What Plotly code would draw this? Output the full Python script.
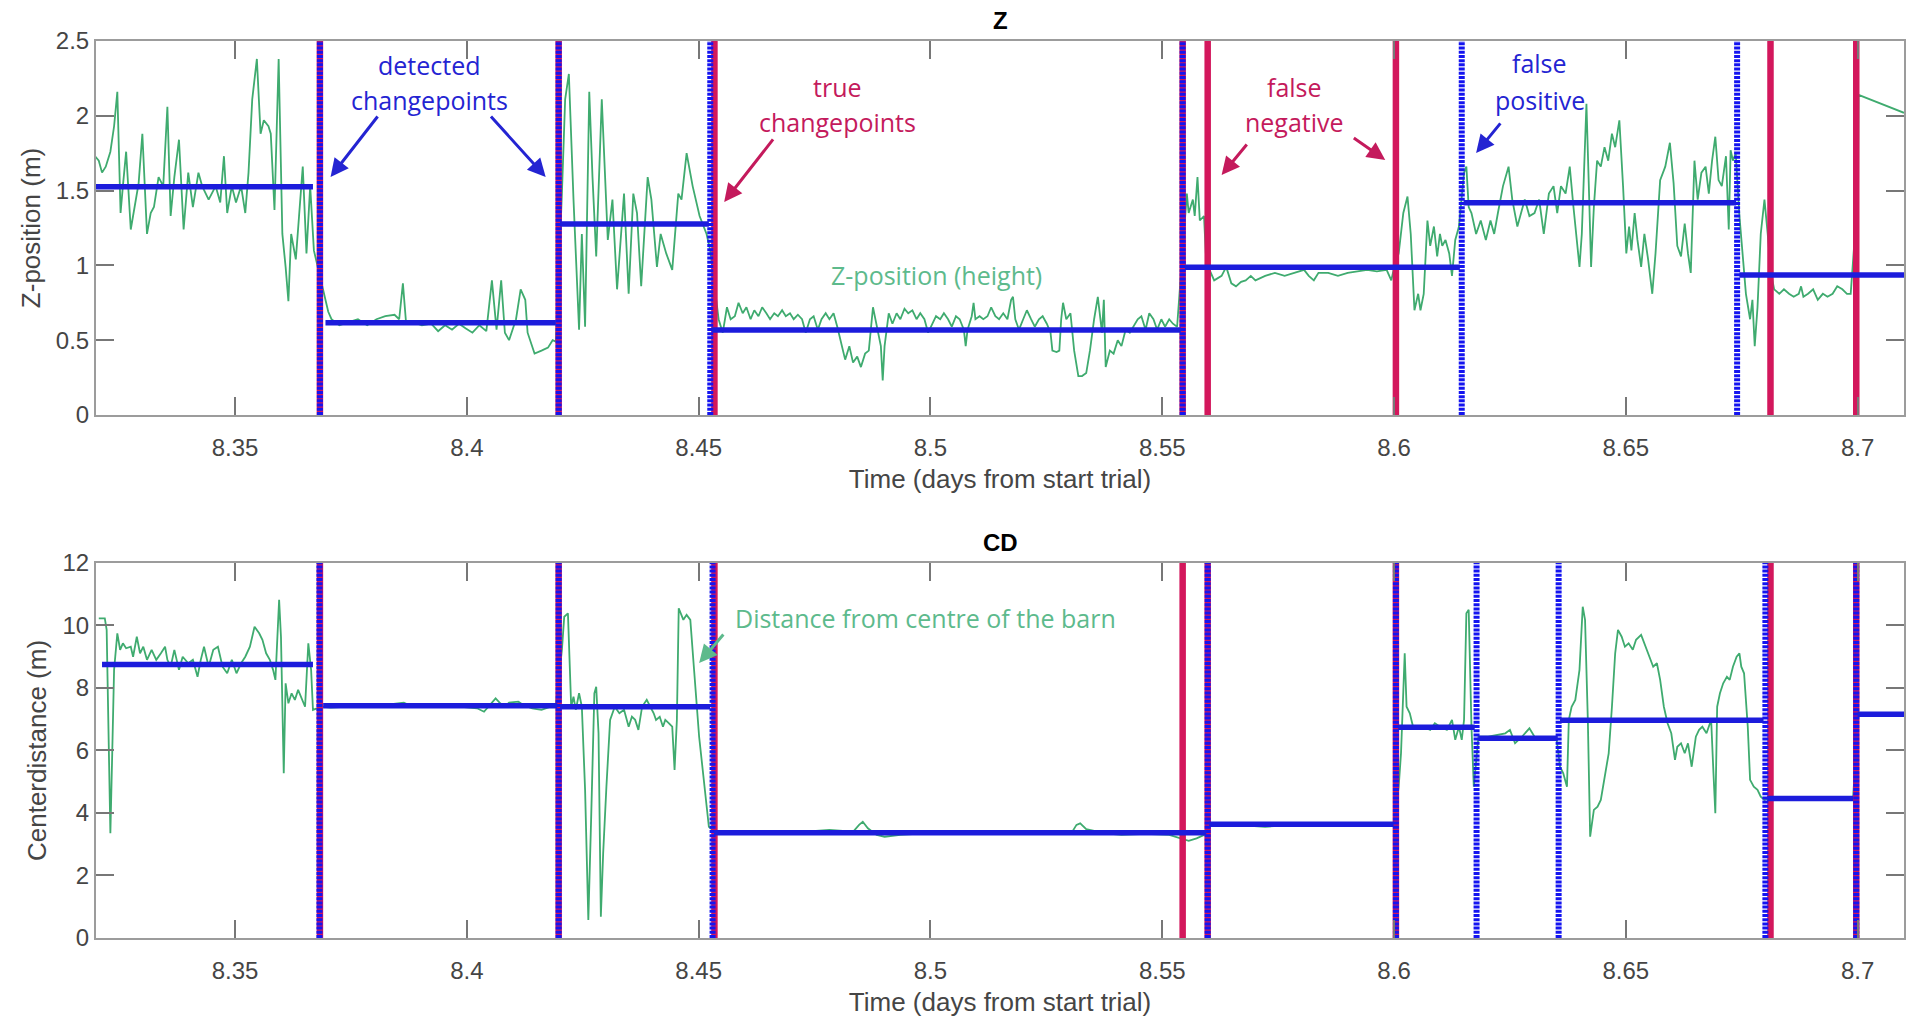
import plotly.graph_objects as go

# ---------------- axes / ticks ----------------
x_range = [8.32, 8.71]
x_tick_vals = [8.35, 8.4, 8.45, 8.5, 8.55, 8.6, 8.65, 8.7]
x_tick_text = ["8.35", "8.4", "8.45", "8.5", "8.55", "8.6", "8.65", "8.7"]
z_range = [0, 2.5]
z_tick_vals = [0, 0.5, 1, 1.5, 2, 2.5]
z_tick_text = ["0", "0.5", "1", "1.5", "2", "2.5"]
cd_range = [0, 12]
cd_tick_vals = [0, 2, 4, 6, 8, 10, 12]
cd_tick_text = ["0", "2", "4", "6", "8", "10", "12"]

# ---------------- changepoints ----------------
true_changepoints = [8.3683, 8.4198, 8.4534, 8.5544, 8.5598, 8.6004, 8.6812, 8.6997]
detected_z = [8.3683, 8.4198, 8.4525, 8.5544, 8.6146, 8.6740]
detected_cd = [8.3682, 8.4198, 8.4530, 8.5598, 8.6004, 8.6178, 8.6355, 8.6801, 8.6997]

# ---------------- segment means ----------------
z_seg_start = [8.3198, 8.3695, 8.4201, 8.4528, 8.5549, 8.6150, 8.6745]
z_seg_end = [8.3668, 8.4192, 8.4522, 8.5540, 8.6142, 8.6738, 8.7100]
z_seg_level = [1.526, 0.617, 1.277, 0.568, 0.987, 1.419, 0.936]

cd_seg_start = [8.3213, 8.3690, 8.4201, 8.4533, 8.5601, 8.6009, 8.6182, 8.6358, 8.6805, 8.7000]
cd_seg_end = [8.3668, 8.4195, 8.4525, 8.5595, 8.5999, 8.6174, 8.6353, 8.6797, 8.6990, 8.7100]
cd_seg_level = [8.75, 7.43, 7.40, 3.37, 3.64, 6.74, 6.39, 6.97, 4.46, 7.16]

# ---------------- Z-position (height) samples ----------------
z_time = [
    # segment 1
    8.3198, 8.3206, 8.3213, 8.3221, 8.3231, 8.3239, 8.3246, 8.3253, 8.3258, 8.3265,
    8.3275, 8.3285, 8.3292, 8.3300, 8.3310, 8.3318, 8.3325, 8.3335, 8.3345, 8.3354,
    8.3361, 8.3369, 8.3379, 8.3389, 8.3399, 8.3409, 8.3421, 8.3429, 8.3443, 8.3458,
    8.3468, 8.3476, 8.3483, 8.3493, 8.3502, 8.3513, 8.3522, 8.3529, 8.3537, 8.3547,
    8.3555, 8.3562, 8.3572, 8.3577, 8.3585, 8.3594, 8.3602, 8.3609, 8.3615, 8.3621,
    8.3631, 8.3638, 8.3646, 8.3654, 8.3662, 8.3670,
    # segment 2
    8.3696, 8.3701, 8.3708, 8.3725, 8.3745, 8.3765, 8.3785, 8.3805, 8.3824, 8.3844,
    8.3854, 8.3862, 8.3869, 8.3884, 8.3903, 8.3923, 8.3938, 8.3953, 8.3968, 8.3983,
    8.3997, 8.4012, 8.4027, 8.4042, 8.4054, 8.4064, 8.4074, 8.4082, 8.4091, 8.4106,
    8.4116, 8.4126, 8.4131, 8.4139, 8.4146, 8.4161, 8.4175, 8.4185, 8.4192,
    # segment 3
    8.4205, 8.4212, 8.4220, 8.4230, 8.4242, 8.4248, 8.4255, 8.4264, 8.4271, 8.4279,
    8.4291, 8.4304, 8.4314, 8.4324, 8.4339, 8.4349, 8.4359, 8.4367, 8.4376, 8.4390,
    8.4398, 8.4410, 8.4418, 8.4430, 8.4443, 8.4456, 8.4463, 8.4474, 8.4487, 8.4502,
    8.4517, 8.4525,
    # segment 4
    8.4543, 8.4552, 8.4561, 8.4569, 8.4578, 8.4586, 8.4595, 8.4603, 8.4612, 8.4620,
    8.4629, 8.4637, 8.4646, 8.4654, 8.4663, 8.4671, 8.4680, 8.4688, 8.4697, 8.4705,
    8.4714, 8.4723, 8.4731, 8.4740, 8.4748, 8.4757, 8.4765, 8.4774, 8.4782, 8.4791,
    8.4799, 8.4808, 8.4816, 8.4825, 8.4833, 8.4842, 8.4850, 8.4859, 8.4867, 8.4876,
    8.4884, 8.4893, 8.4897, 8.4901, 8.4910, 8.4918, 8.4927, 8.4935, 8.4944, 8.4952,
    8.4961, 8.4970, 8.4978, 8.4987, 8.4995, 8.5004, 8.5012, 8.5021, 8.5029, 8.5038,
    8.5046, 8.5055, 8.5063, 8.5072, 8.5076, 8.5080, 8.5089, 8.5093, 8.5097, 8.5106,
    8.5114, 8.5123, 8.5131, 8.5140, 8.5148, 8.5157, 8.5166, 8.5174, 8.5178, 8.5183,
    8.5191, 8.5200, 8.5208, 8.5217, 8.5225, 8.5234, 8.5242, 8.5251, 8.5259, 8.5263,
    8.5272, 8.5278, 8.5282, 8.5286, 8.5293, 8.5302, 8.5310, 8.5319, 8.5327, 8.5336,
    8.5344, 8.5353, 8.5361, 8.5370, 8.5374, 8.5378, 8.5387, 8.5395, 8.5404, 8.5412,
    8.5421, 8.5430, 8.5438, 8.5447, 8.5455, 8.5464, 8.5472, 8.5481, 8.5489, 8.5498,
    8.5506, 8.5515, 8.5523, 8.5532,
    # segment 5
    8.5553, 8.5557, 8.5566, 8.5570, 8.5576, 8.5581, 8.5590, 8.5594, 8.5602, 8.5612,
    8.5628, 8.5638, 8.5649, 8.5659, 8.5670, 8.5680, 8.5691, 8.5701, 8.5722, 8.5743,
    8.5764, 8.5785, 8.5806, 8.5816, 8.5827, 8.5837, 8.5858, 8.5879, 8.5900, 8.5921,
    8.5942, 8.5963, 8.5984, 8.5994, 8.5999, 8.6010, 8.6020, 8.6029, 8.6036, 8.6044,
    8.6052, 8.6057, 8.6064, 8.6072, 8.6078, 8.6086, 8.6093, 8.6099, 8.6104, 8.6111,
    8.6119, 8.6125, 8.6132, 8.6140,
    # segment 6
    8.6151, 8.6156, 8.6161, 8.6167, 8.6177, 8.6187, 8.6198, 8.6208, 8.6216, 8.6224,
    8.6235, 8.6247, 8.6255, 8.6266, 8.6274, 8.6282, 8.6292, 8.6303, 8.6313, 8.6323,
    8.6334, 8.6344, 8.6352, 8.6360, 8.6370, 8.6379, 8.6387, 8.6393, 8.6400, 8.6405,
    8.6410, 8.6415, 8.6421, 8.6425, 8.6431, 8.6438, 8.6446, 8.6454, 8.6462, 8.6470,
    8.6477, 8.6486, 8.6494, 8.6501, 8.6507, 8.6512, 8.6519, 8.6525, 8.6533, 8.6540,
    8.6548, 8.6557, 8.6564, 8.6574, 8.6585, 8.6595, 8.6603, 8.6611, 8.6619, 8.6627,
    8.6634, 8.6640, 8.6648, 8.6655, 8.6663, 8.6672, 8.6679, 8.6686, 8.6693, 8.6700,
    8.6707, 8.6716, 8.6722, 8.6726, 8.6731, 8.6737,
    # segment 7
    8.6745, 8.6752, 8.6759, 8.6768, 8.6773, 8.6778, 8.6784, 8.6791, 8.6799, 8.6806,
    8.6813, 8.6820, 8.6831, 8.6841, 8.6852, 8.6862, 8.6873, 8.6878, 8.6883, 8.6893,
    8.6904, 8.6914, 8.6925, 8.6935, 8.6946, 8.6956, 8.6967, 8.6977, 8.6985, 8.7001,
    8.7002, 8.7100,
]
z_value = [
    # segment 1
    1.73, 1.70, 1.62, 1.66, 1.76, 1.93, 2.16, 1.35, 1.53, 1.76,
    1.24, 1.44, 1.55, 1.88, 1.21, 1.35, 1.39, 1.59, 1.53, 2.06,
    1.33, 1.59, 1.84, 1.24, 1.62, 1.39, 1.62, 1.53, 1.44, 1.53,
    1.42, 1.73, 1.35, 1.53, 1.42, 1.53, 1.35, 1.62, 2.11, 2.38,
    1.88, 1.97, 1.93, 1.88, 1.37, 2.38, 1.21, 0.99, 0.76, 1.21,
    1.04, 1.33, 1.66, 1.08, 1.53, 1.10,
    # segment 2
    0.76, 0.69, 0.64, 0.60, 0.62, 0.64, 0.60, 0.64, 0.66, 0.67,
    0.64, 0.88, 0.61, 0.62, 0.60, 0.61, 0.56, 0.60, 0.57, 0.61,
    0.58, 0.55, 0.60, 0.56, 0.90, 0.57, 0.90, 0.55, 0.50, 0.64,
    0.84, 0.77, 0.55, 0.48, 0.41, 0.43, 0.45, 0.50, 0.49,
    # segment 3
    1.48, 2.11, 2.28, 1.44, 0.57, 1.21, 0.59, 2.16, 1.59, 1.06,
    2.11, 1.17, 1.44, 0.84, 1.48, 0.81, 1.48, 1.35, 0.86, 1.59,
    1.44, 0.99, 1.21, 1.08, 0.97, 1.48, 1.44, 1.75, 1.53, 1.33,
    1.21, 1.10,
    # segment 4
    0.64, 0.55, 0.72, 0.64, 0.66, 0.75, 0.68, 0.72, 0.64, 0.70,
    0.66, 0.72, 0.68, 0.64, 0.68, 0.66, 0.70, 0.66, 0.68, 0.64,
    0.67, 0.64, 0.55, 0.64, 0.66, 0.57, 0.64, 0.68, 0.64, 0.68,
    0.59, 0.48, 0.37, 0.46, 0.35, 0.39, 0.32, 0.41, 0.43, 0.72,
    0.59, 0.46, 0.23, 0.46, 0.68, 0.61, 0.68, 0.64, 0.71, 0.68,
    0.70, 0.64, 0.68, 0.64, 0.55, 0.61, 0.66, 0.64, 0.68, 0.64,
    0.59, 0.66, 0.64, 0.57, 0.46, 0.57, 0.66, 0.75, 0.64, 0.66,
    0.64, 0.66, 0.72, 0.66, 0.64, 0.68, 0.64, 0.77, 0.79, 0.64,
    0.57, 0.64, 0.70, 0.64, 0.59, 0.64, 0.66, 0.61, 0.55, 0.43,
    0.42, 0.43, 0.64, 0.75, 0.64, 0.68, 0.43, 0.26, 0.26, 0.28,
    0.43, 0.64, 0.79, 0.55, 0.77, 0.32, 0.43, 0.41, 0.50, 0.46,
    0.57, 0.55, 0.59, 0.64, 0.66, 0.57, 0.68, 0.64, 0.57, 0.64,
    0.59, 0.64, 0.61, 0.59,
    # segment 5
    1.48, 1.35, 1.44, 1.33, 1.59, 1.30, 1.33, 1.08, 0.97, 0.90,
    0.93, 0.99, 0.88, 0.86, 0.89, 0.90, 0.93, 0.90, 0.93, 0.95,
    0.93, 0.95, 0.97, 0.93, 0.90, 0.95, 0.95, 0.93, 0.95, 0.96,
    0.97, 0.96, 0.97, 0.90, 0.97, 1.08, 1.35, 1.46, 1.21, 0.70,
    0.81, 0.70, 0.81, 1.30, 1.13, 1.26, 1.06, 1.21, 1.13, 1.17,
    1.08, 0.93, 1.17, 1.26,
    # segment 6
    1.62, 1.66, 1.39, 1.35, 1.21, 1.30, 1.17, 1.30, 1.21, 1.35,
    1.53, 1.66, 1.44, 1.26, 1.35, 1.44, 1.33, 1.35, 1.44, 1.21,
    1.48, 1.53, 1.35, 1.53, 1.48, 1.66, 1.39, 1.21, 0.99, 1.21,
    1.66, 2.08, 1.44, 0.99, 1.39, 1.70, 1.66, 1.79, 1.70, 1.88,
    1.79, 1.97, 1.53, 1.08, 1.26, 1.10, 1.35, 1.17, 0.99, 1.21,
    1.04, 0.81, 1.08, 1.57, 1.66, 1.82, 1.55, 1.13, 1.06, 1.28,
    1.08, 0.95, 1.70, 1.44, 1.62, 1.66, 1.48, 1.70, 1.86, 1.57,
    1.53, 1.73, 1.24, 1.77, 1.70, 1.75,
    # segment 7
    1.33, 1.08, 0.81, 0.64, 0.77, 0.46, 0.72, 1.21, 1.44, 1.21,
    0.95, 0.84, 0.81, 0.84, 0.81, 0.79, 0.81, 0.86, 0.79, 0.81,
    0.84, 0.77, 0.81, 0.79, 0.81, 0.86, 0.84, 0.81, 0.81, 1.50,
    2.14, 2.02,
]

# ---------------- Centerdistance samples ----------------
cd_time = [
    # segment 1
    8.3206, 8.3219, 8.3223, 8.3227, 8.3231, 8.3235, 8.3239, 8.3246, 8.3252, 8.3258,
    8.3265, 8.3275, 8.3280, 8.3288, 8.3295, 8.3302, 8.3310, 8.3320, 8.3330, 8.3340,
    8.3349, 8.3354, 8.3361, 8.3369, 8.3379, 8.3387, 8.3399, 8.3409, 8.3419, 8.3426,
    8.3433, 8.3443, 8.3453, 8.3463, 8.3473, 8.3483, 8.3493, 8.3503, 8.3513, 8.3522,
    8.3532, 8.3542, 8.3552, 8.3559, 8.3567, 8.3575, 8.3582, 8.3587, 8.3595, 8.3599,
    8.3605, 8.3609, 8.3615, 8.3622, 8.3629, 8.3636, 8.3644, 8.3651, 8.3658, 8.3664,
    8.3668,
    # segment 2
    8.3686, 8.3706, 8.3745, 8.3785, 8.3824, 8.3864, 8.3874, 8.3903, 8.3943, 8.3983,
    8.4022, 8.4037, 8.4047, 8.4062, 8.4072, 8.4082, 8.4091, 8.4111, 8.4121, 8.4141,
    8.4161, 8.4180, 8.4192,
    # segment 3
    8.4205, 8.4210, 8.4218, 8.4225, 8.4230, 8.4235, 8.4242, 8.4248, 8.4255, 8.4262,
    8.4268, 8.4275, 8.4279, 8.4284, 8.4289, 8.4294, 8.4301, 8.4309, 8.4319, 8.4329,
    8.4339, 8.4349, 8.4356, 8.4363, 8.4370, 8.4378, 8.4388, 8.4396, 8.4403, 8.4408,
    8.4416, 8.4423, 8.4428, 8.4436, 8.4443, 8.4448, 8.4453, 8.4457, 8.4467, 8.4474,
    8.4482, 8.4490, 8.4501, 8.4522,
    # segment 4
    8.4535, 8.4595, 8.4629, 8.4680, 8.4731, 8.4782, 8.4833, 8.4846, 8.4854, 8.4865,
    8.4884, 8.4901, 8.4935, 8.4987, 8.5055, 8.5123, 8.5191, 8.5259, 8.5306, 8.5315,
    8.5323, 8.5336, 8.5378, 8.5412, 8.5464, 8.5515, 8.5557, 8.5574, 8.5591,
    # segment 5
    8.5602, 8.5659, 8.5722, 8.5785, 8.5848, 8.5910, 8.5973, 8.5999,
    # segment 6
    8.6010, 8.6015, 8.6023, 8.6027, 8.6034, 8.6041, 8.6052, 8.6062, 8.6078, 8.6088,
    8.6099, 8.6114, 8.6125, 8.6132, 8.6140, 8.6146, 8.6151, 8.6156, 8.6161, 8.6167,
    8.6172,
    # segment 7
    8.6182, 8.6203, 8.6224, 8.6240, 8.6250, 8.6261, 8.6276, 8.6292, 8.6303, 8.6318,
    8.6339, 8.6350,
    # segment 8
    8.6358, 8.6365, 8.6373, 8.6377, 8.6383, 8.6391, 8.6400, 8.6407, 8.6412, 8.6418,
    8.6423, 8.6431, 8.6439, 8.6446, 8.6454, 8.6463, 8.6470, 8.6477, 8.6483, 8.6491,
    8.6498, 8.6506, 8.6515, 8.6522, 8.6533, 8.6540, 8.6548, 8.6559, 8.6567, 8.6574,
    8.6582, 8.6590, 8.6598, 8.6606, 8.6611, 8.6619, 8.6627, 8.6634, 8.6642, 8.6651,
    8.6658, 8.6665, 8.6674, 8.6684, 8.6689, 8.6693, 8.6697, 8.6703, 8.6710, 8.6718,
    8.6724, 8.6731, 8.6739, 8.6745, 8.6749, 8.6755, 8.6763, 8.6768, 8.6776, 8.6784,
    8.6791, 8.6799,
    # segments 9-10
    8.6806, 8.6900, 8.6990, 8.7002, 8.7100,
]
cd_value = [
    # segment 1
    10.23, 10.23, 9.86, 6.98, 3.35, 5.91, 8.58, 9.75, 9.22, 9.43,
    9.27, 9.32, 9.00, 9.64, 9.11, 9.32, 8.90, 9.22, 8.90, 9.11,
    9.32, 8.90, 8.68, 9.22, 8.58, 9.00, 8.79, 8.90, 8.36, 8.90,
    9.32, 8.68, 9.22, 9.32, 8.68, 8.47, 8.90, 8.47, 8.79, 9.00,
    9.32, 9.96, 9.75, 9.54, 9.11, 8.90, 8.58, 8.26, 10.82, 9.64,
    5.27, 8.15, 7.51, 7.83, 7.62, 7.94, 7.62, 7.40, 9.43, 8.58,
    7.30,
    # segment 2
    7.40, 7.37, 7.40, 7.42, 7.46, 7.53, 7.46, 7.40, 7.42, 7.40,
    7.35, 7.24, 7.40, 7.67, 7.51, 7.40, 7.53, 7.56, 7.46, 7.35,
    7.30, 7.40, 7.46,
    # segment 3
    9.22, 10.28, 10.39, 7.40, 7.72, 7.30, 7.83, 7.40, 4.74, 0.58,
    3.78, 7.83, 8.04, 6.55, 0.68, 2.71, 4.84, 6.98, 7.40, 7.19,
    7.30, 6.76, 7.08, 6.98, 6.66, 7.40, 7.62, 7.40, 7.19, 6.98,
    7.08, 6.76, 6.98, 6.87, 6.76, 5.38, 6.98, 10.55, 10.18, 10.34,
    10.18, 8.60, 6.44, 3.56,
    # segment 4
    3.40, 3.40, 3.35, 3.40, 3.40, 3.46, 3.40, 3.62, 3.72, 3.51,
    3.30, 3.24, 3.30, 3.35, 3.37, 3.35, 3.37, 3.35, 3.40, 3.62,
    3.67, 3.48, 3.35, 3.30, 3.33, 3.30, 3.11, 3.19, 3.30,
    # segment 5
    3.65, 3.62, 3.56, 3.62, 3.64, 3.62, 3.64, 3.64,
    # segment 6
    4.84, 5.91, 9.11, 7.40, 7.19, 6.76, 6.71, 6.76, 6.66, 6.87,
    6.76, 6.66, 6.98, 6.34, 6.76, 6.34, 6.98, 10.39, 10.50, 6.76,
    4.84,
    # segment 7
    6.44, 6.44, 6.50, 6.55, 6.66, 6.23, 6.44, 6.71, 6.44, 6.39,
    6.34, 6.44,
    # segment 8
    5.48, 5.27, 4.84, 6.98, 7.40, 7.62, 8.58, 10.60, 10.18, 6.98,
    3.24, 4.10, 4.20, 4.42, 5.06, 5.91, 7.40, 9.11, 9.86, 9.64,
    9.32, 9.43, 9.22, 9.54, 9.70, 9.43, 9.11, 8.68, 8.79, 8.26,
    7.40, 6.87, 6.55, 5.70, 6.12, 6.23, 5.91, 6.23, 5.48, 6.44,
    6.66, 6.76, 6.55, 6.98, 5.27, 3.99, 7.40, 7.83, 8.15, 8.36,
    8.26, 8.68, 9.00, 9.11, 8.68, 8.47, 6.76, 5.06, 4.84, 4.74,
    4.52, 4.42,
    # segments 9-10
    4.46, 4.45, 4.46, 7.16, 7.16,
]

# ---------------- colours ----------------
GREEN = "#3fab6f"
GREEN_TXT = "#5dba8c"
RED = "#d3175c"
BLUE = "#1414f0"
SEG_BLUE = "#1c1cdc"
TXT_BLUE = "#2424d2"
TXT_RED = "#c41a5c"
AX_GREY = "#9c9c9c"
TXT_GREY = "#454545"


def vlines(xs, top):
    xx, yy = [], []
    for x in xs:
        xx += [x, x, None]
        yy += [0, top, None]
    return xx, yy


def hsegs(starts, ends, levels):
    xx, yy = [], []
    for s, e, v in zip(starts, ends, levels):
        xx += [s, e, None]
        yy += [v, v, None]
    return xx, yy


fig = go.Figure()

panels = [
    ("x", "y", z_time, z_value, detected_z, z_seg_start, z_seg_end, z_seg_level, z_range[1]),
    ("x2", "y2", cd_time, cd_value, detected_cd, cd_seg_start, cd_seg_end, cd_seg_level, cd_range[1]),
]
for xa, ya, tt, vv, det, ss, ee, lv, top in panels:
    fig.add_trace(go.Scatter(x=tt, y=vv, mode="lines", xaxis=xa, yaxis=ya,
                             line=dict(color=GREEN, width=1.8), hoverinfo="skip"))
    vx, vy = vlines(true_changepoints, top)
    fig.add_trace(go.Scatter(x=vx, y=vy, mode="lines", xaxis=xa, yaxis=ya,
                             line=dict(color=RED, width=6.5), hoverinfo="skip"))
    dx, dy = vlines(det, top)
    fig.add_trace(go.Scatter(x=dx, y=dy, mode="lines", xaxis=xa, yaxis=ya,
                             line=dict(color=BLUE, width=6, dash="3px,1.2px"), hoverinfo="skip"))
    hx, hy = hsegs(ss, ee, lv)
    fig.add_trace(go.Scatter(x=hx, y=hy, mode="lines", xaxis=xa, yaxis=ya,
                             line=dict(color=SEG_BLUE, width=5.5), hoverinfo="skip"))

axis_common = dict(
    showline=True, linecolor=AX_GREY, linewidth=2, mirror="ticks",
    ticks="inside", ticklen=18, tickwidth=1.5, tickcolor="#777777",
    showgrid=False, zeroline=False,
    tickfont=dict(family="Liberation Sans, Arial", size=24, color=TXT_GREY),
)
xtitle = dict(text="Time (days from start trial)",
              font=dict(family="Liberation Sans, Arial", size=26, color=TXT_GREY), standoff=10)

fig.update_layout(
    width=1911, height=1019,
    margin=dict(l=96, r=5, t=41, b=81),
    paper_bgcolor="white", plot_bgcolor="white",
    showlegend=False,
    xaxis=dict(domain=[0, 1], anchor="y", range=x_range, tickvals=x_tick_vals,
               ticktext=x_tick_text, title=xtitle, ticklabelstandoff=10, **axis_common),
    yaxis=dict(domain=[0.5831, 1], anchor="x", range=z_range, tickvals=z_tick_vals,
               ticktext=z_tick_text,
               title=dict(text="Z-position (m)", standoff=8,
                          font=dict(family="Liberation Sans, Arial", size=26, color=TXT_GREY)),
               **axis_common),
    xaxis2=dict(domain=[0, 1], anchor="y2", range=x_range, tickvals=x_tick_vals,
                ticktext=x_tick_text, title=xtitle, ticklabelstandoff=10, **axis_common),
    yaxis2=dict(domain=[0, 0.4181], anchor="x2", range=cd_range, tickvals=cd_tick_vals,
                ticktext=cd_tick_text,
                title=dict(text="Centerdistance (m)", standoff=8,
                           font=dict(family="Liberation Sans, Arial", size=26, color=TXT_GREY)),
                **axis_common),
)

ANN_FONT = "Open Sans"
ann = []
# panel titles
ann.append(dict(text="<b>Z</b>", xref="paper", yref="paper", x=0.5, y=1.0234,
                xanchor="center", yanchor="middle", showarrow=False,
                font=dict(family="Liberation Sans, Arial", size=24, color="black")))
ann.append(dict(text="<b>CD</b>", xref="paper", yref="paper", x=0.5, y=0.4404,
                xanchor="center", yanchor="middle", showarrow=False,
                font=dict(family="Liberation Sans, Arial", size=24, color="black")))


def label(text, x, y, color, xr="x", yr="y", xanchor="center"):
    ann.append(dict(text=text, xref=xr, yref=yr, x=x, y=y, showarrow=False, xanchor=xanchor,
                    yanchor="middle", font=dict(family=ANN_FONT, size=25, color=color)))


def arrow(x0, y0, x1, y1, color, xr="x", yr="y"):
    ann.append(dict(text="", xref=xr, yref=yr, axref=xr, ayref=yr, x=x1, y=y1, ax=x0, ay=y0,
                    showarrow=True, arrowhead=2, arrowsize=1.2, arrowwidth=3, arrowcolor=color))


label("detected", 8.3920, 2.340, TXT_BLUE)
label("changepoints", 8.3920, 2.106, TXT_BLUE)
arrow(8.3810, 2.005, 8.3706, 1.591, TXT_BLUE)
arrow(8.4049, 2.005, 8.4170, 1.591, TXT_BLUE)

label("true", 8.4799, 2.193, TXT_RED)
label("changepoints", 8.4799, 1.959, TXT_RED)
arrow(8.4663, 1.852, 8.4555, 1.424, TXT_RED)

label("false", 8.5786, 2.193, TXT_RED)
label("negative", 8.5786, 1.959, TXT_RED)
arrow(8.5685, 1.818, 8.5628, 1.604, TXT_RED)
arrow(8.5910, 1.858, 8.5981, 1.705, TXT_RED)

label("false", 8.6314, 2.353, TXT_BLUE)
label("positive", 8.6314, 2.106, TXT_BLUE)
arrow(8.6232, 1.959, 8.6177, 1.751, TXT_BLUE)

label("Z-position (height)", 8.5012, 0.936, GREEN_TXT)

label("Distance from centre of the barn", 8.4573, 10.24, GREEN_TXT, "x2", "y2", "left")
arrow(8.4556, 9.76, 8.4501, 8.80, GREEN_TXT, "x2", "y2")

fig.update_layout(annotations=ann)

fig.write_html("out.html")
